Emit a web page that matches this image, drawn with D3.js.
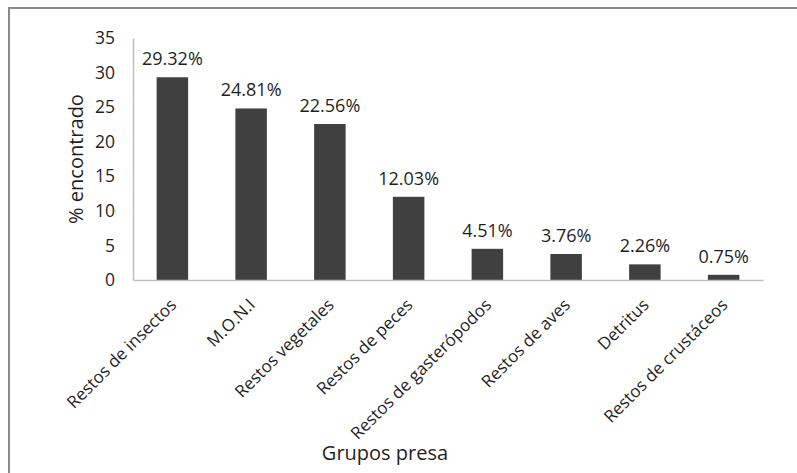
<!DOCTYPE html>
<html>
<head>
<meta charset="utf-8">
<script src="https://cdn.jsdelivr.net/npm/d3@7/dist/d3.min.js"></script>
<style>
  html, body { margin: 0; padding: 0; background: #fff; }
  svg { display: block; font-family: "Open Sans", "Noto Sans", sans-serif; }
</style>
</head>
<body>
<svg id="chart" width="797" height="473"></svg>
<script>
// Prey groups and the share (%) of each found in the diet
const categories = [
  "Restos de insectos", "M.O.N.I", "Restos vegetales", "Restos de peces",
  "Restos de gasterópodos", "Restos de aves", "Detritus", "Restos de crustáceos"
];
const values = [29.32, 24.81, 22.56, 12.03, 4.51, 3.76, 2.26, 0.75];
const yTicks = [0, 5, 10, 15, 20, 25, 30, 35];
const yTitle = "% encontrado";
const xTitle = "Grupos presa";

const svg = d3.select("#chart");
const W = 797, H = 473;
const plot = { left: 133, right: 763, top: 38, bottom: 280 };
const ink = "#1f1f1f";

// outer frame
svg.append("rect")
  .attr("x", 9).attr("y", 8)
  .attr("width", W).attr("height", H)
  .attr("fill", "none").attr("stroke", "#898989").attr("stroke-width", 2);

const x = d3.scaleBand()
  .domain(categories)
  .range([plot.left, plot.right])
  .paddingInner(0.6).paddingOuter(0.3);

const y = d3.scaleLinear().domain([0, 35]).range([plot.bottom, plot.top]);

// y axis: labels only, plus a light vertical rule
const yAxis = d3.axisLeft(y).tickValues(yTicks).tickSize(0).tickPadding(18);
const gy = svg.append("g").attr("transform", `translate(${plot.left},0)`).call(yAxis);
gy.select(".domain").attr("stroke", "#bfbfbf").attr("stroke-width", 1.5);
gy.selectAll("text")
  .attr("font-size", 17.5).attr("fill", ink)
  .attr("font-family", "Open Sans, sans-serif");

// bars
svg.append("g").selectAll("rect")
  .data(values)
  .join("rect")
  .attr("x", (d, i) => x(categories[i]))
  .attr("y", d => y(d))
  .attr("width", x.bandwidth())
  .attr("height", d => y(0) - y(d))
  .attr("fill", "#404040");

// x axis baseline
const xAxis = d3.axisBottom(x).tickSize(0).tickFormat("");
const gx = svg.append("g").attr("transform", `translate(0,${plot.bottom})`).call(xAxis);
gx.select(".domain").attr("stroke", "#bfbfbf").attr("stroke-width", 1.5);

// value labels above bars
svg.append("g").selectAll("text")
  .data(values)
  .join("text")
  .attr("x", (d, i) => x(categories[i]) + x.bandwidth() / 2)
  .attr("y", d => y(d) - 12)
  .attr("text-anchor", "middle")
  .attr("font-size", 18).attr("fill", ink)
  .text(d => d.toFixed(2) + "%");

// rotated category labels
svg.append("g").selectAll("text")
  .data(categories)
  .join("text")
  .attr("transform", d => `translate(${x(d) + x.bandwidth() / 2 + 5},${plot.bottom + 26}) rotate(-45)`)
  .attr("text-anchor", "end")
  .attr("font-size", 17).attr("fill", ink)
  .text(d => d);

// axis titles
svg.append("text")
  .attr("transform", `translate(83,${(plot.top + plot.bottom) / 2}) rotate(-90)`)
  .attr("text-anchor", "middle")
  .attr("font-size", 20).attr("fill", ink)
  .text(yTitle);

svg.append("text")
  .attr("x", 385).attr("y", 460)
  .attr("text-anchor", "middle")
  .attr("font-size", 20).attr("fill", ink)
  .text(xTitle);
</script>
</body>
</html>
